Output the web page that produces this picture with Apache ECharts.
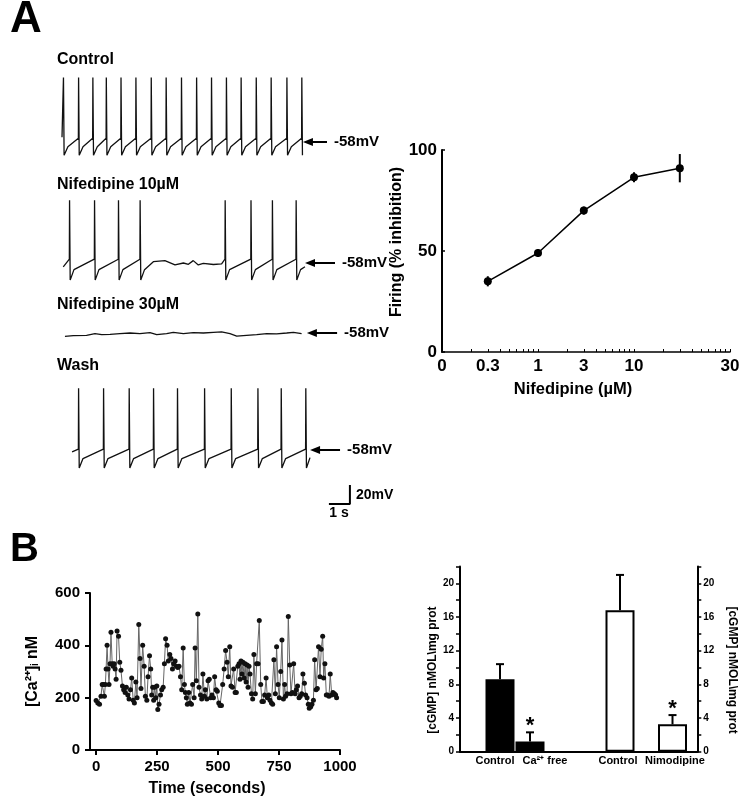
<!DOCTYPE html>
<html><head><meta charset="utf-8">
<script src="https://cdn.jsdelivr.net/npm/echarts@6/dist/echarts.min.js"></script>
<style>html,body{margin:0;padding:0;background:#fff}#c{width:748px;height:803px}</style>
</head><body><div id="c"></div>
<script>
// ---------- Panel A: membrane potential traces (time s, potential mV) ----------
const restingMV = -58;
const restLabel = '-58mV';
const traceNames = ['Control', 'Nifedipine 10\u00b5M', 'Nifedipine 30\u00b5M', 'Wash'];

const controlSpikes = [0.06, 0.78, 1.46, 2.10, 2.80, 3.51, 4.24, 4.95, 5.68, 6.40, 7.11, 7.82, 8.52, 9.24, 9.95, 10.70, 11.41];
const controlLevels = [-54, 10, -72, -63];           // threshold, peak, trough, early recovery
const controlEnds = [[0, -53], [11.45, -72]];

const nif10Spikes = [0.35, 1.54, 2.68, 3.71, 7.76, 8.99, 10.01, 11.14];
const nif10Levels = [-54, 8, -76, -65];
const nif10Ends = [[0.06, -62], [11.57, -62]];
const nif10Quiet = [[4.35, -56.6], [4.9, -55.5], [5.38, -60], [5.78, -58], [6.02, -59.4], [6.25, -55.5], [6.49, -60], [6.73, -58.4], [7.21, -59.6], [7.6, -58.9]];

const nif30Time = [0.14, 0.54, 1.17, 1.57, 1.89, 2.29, 2.76, 3.24, 3.71, 4.19, 4.51, 4.98, 5.30, 5.78, 6.25, 6.73, 7.21, 7.60, 8.00, 8.32, 8.79, 9.27, 9.75, 10.22, 10.70, 11.02, 11.41];
const nif30MV = [-61.5, -60.8, -60.4, -58.7, -59.7, -59.4, -58.7, -58, -58.7, -57.6, -59.7, -58.7, -57.3, -58.7, -57.6, -58, -57.3, -56.9, -58.7, -61.2, -60.4, -59.7, -58.7, -59, -58, -57.3, -58.7];

const washSpikes = [0.78, 1.97, 3.19, 4.35, 5.49, 6.78, 8.05, 9.32, 10.43, 11.60];
const washLevels = [-57, 7, -77, -67];
const washEnds = [[0.48, -60], [11.81, -66]];

const scaleBarSec = 1, scaleBarMV = 20;
const scaleBarCorner = [13.71, -114.8];

// ---------- Panel A: dose response ----------
const doseConc = [0.3, 1, 3, 10, 30];
const doseInhib = [35, 49, 70, 86.5, 91];
const doseErr = [2.5, 2, 2, 2.5, 7];
const doseTickValues = [0.1, 0.3, 1, 3, 10, 100];
const doseTickLabels = ['0', '0.3', '1', '3', '10', '30'];
const doseTickMarks = [0.2, 0.3, 0.4, 0.5, 0.6, 0.7, 0.8, 0.9, 1, 2, 3, 4, 5, 6, 7, 8, 9, 10, 20, 30, 40, 50, 60, 70, 80, 90, 100];

// ---------- Panel B: [Ca2+]i time course ----------
const caTime = [0,7,14,20,25,30,34,38,41,45,49,53,57,61,66,70,74,78,82,86,92,97,102,108,113,119,124,130,135,141,146,152,157,163,168,175,180,184,191,197,202,208,213,219,224,228,232,236,240,245,249,253,258,264,269,275,280,285,291,296,302,307,313,318,324,329,335,340,346,351,357,362,366,370,374,380,385,391,396,402,406,411,417,422,428,433,438,444,448,454,459,464,470,475,481,486,492,497,503,508,514,519,525,531,537,542,548,553,559,564,570,575,581,586,590,594,598,602,607,611,615,619,623,627,631,637,642,647,653,658,664,669,675,680,686,691,697,702,708,713,719,724,729,735,740,746,751,757,762,768,773,777,783,788,794,799,805,810,816,821,826,832,837,843,848,854,859,865,870,874,880,885,891,896,902,907,912,918,923,929,933,938,944,949,955,960,966,971,977,982,986];
const caValue = [189,180,175,205,250,250,205,250,310,400,310,250,330,450,330,320,330,310,270,455,435,335,305,245,230,220,240,210,195,230,275,190,180,260,200,480,350,235,400,320,205,190,280,360,310,210,240,190,240,200,245,155,175,210,230,240,330,425,400,340,365,350,310,330,340,320,315,320,280,230,390,250,220,200,175,220,180,175,250,200,390,265,520,240,210,195,290,205,230,195,265,270,200,210,200,280,230,225,180,170,170,250,310,380,335,280,395,245,240,310,220,220,320,330,270,340,290,335,275,330,260,325,240,320,290,215,195,365,215,330,330,495,250,185,185,210,275,200,210,190,180,175,345,215,395,250,200,300,420,195,250,205,215,510,325,215,220,330,215,230,245,200,205,215,290,255,210,200,175,160,165,175,190,345,230,235,395,280,385,435,275,330,210,210,205,290,210,220,215,210,200];
const caTicks = [0, 250, 500, 750, 1000];

// ---------- Panel B: cGMP bars ----------
const cgmpLabelsA = ['Control', 'Ca\u00b2\u207a free'];
const cgmpValuesA = [8.6, 1.2];
const cgmpErrA = [1.8, 1.1];
const cgmpSigA = [false, true];
const cgmpLabelsB = ['Control', 'Nimodipine'];
const cgmpValuesB = [16.8, 3.25];
const cgmpErrB = [4.2, 1.1];
const cgmpSigB = [false, true];
const cgmpAxisName = '[cGMP] nMOL\\mg prot';

// ---------- helpers ----------
const FONT = '"Liberation Sans", Arial, Helvetica, sans-serif';
function ts(size, extra) { return Object.assign({ fontFamily: FONT, fontWeight: 'bold', fontSize: size, color: '#000' }, extra || {}); }
function gtext(x, y, text, size, align) {
  return { type: 'text', x: x, y: y, silent: true, style: { text: text, fill: '#000', font: 'bold ' + size + 'px ' + FONT, align: align || 'left', verticalAlign: 'middle' } };
}
function spikeTrace(spikes, levels, ends, extra) {
  const pre = levels[0], peak = levels[1], trough = levels[2], rec = levels[3];
  let pts = [ends[0]];
  spikes.forEach(function (t) { pts.push([t, pre], [t + 0.01, peak], [t + 0.04, trough], [t + 0.22, rec]); });
  (extra || []).forEach(function (p) { pts.push(p); });
  pts = pts.filter(function (p) { return p[0] < ends[1][0]; });
  pts.sort(function (a, b) { return a[0] - b[0]; });
  pts.push(ends[1]);
  return pts;
}
function restArrow(t0, t1) {
  return {
    silent: true, animation: false, symbol: ['triangle', 'none'], symbolSize: [8, 10],
    lineStyle: { color: '#000', width: 2, type: 'solid' },
    label: Object.assign({ show: true, position: 'end', formatter: restLabel, distance: 7 }, ts(15)),
    data: [[{ coord: [t0, restingMV] }, { coord: [t1, restingMV] }]]
  };
}
const traceStyle = { color: '#111', width: 1.3 };
function traceSeries(idx, data, arrow) {
  return { type: 'line', xAxisIndex: idx, yAxisIndex: idx, data: data, showSymbol: false, symbol: 'none', clip: false,
    lineStyle: traceStyle, itemStyle: { color: '#111' }, markLine: arrow, silent: true, z: 3 };
}
function barErrRender(sig) {
  return function (params, api) {
    const x = api.value(0), v = api.value(1), e = api.value(2);
    const p0 = api.coord([x, v]), p1 = api.coord([x, v + e]);
    const ch = [
      { type: 'line', shape: { x1: p0[0], y1: p0[1], x2: p1[0], y2: p1[1] }, style: { stroke: '#000', lineWidth: 2 } },
      { type: 'line', shape: { x1: p1[0] - 4, y1: p1[1], x2: p1[0] + 4, y2: p1[1] }, style: { stroke: '#000', lineWidth: 2 } }
    ];
    if (sig[params.dataIndex]) {
      ch.push({ type: 'text', x: p1[0], y: p1[1] - 6, style: { text: '*', fill: '#000', font: 'bold 22px ' + FONT, align: 'center', verticalAlign: 'middle' } });
    }
    return { type: 'group', children: ch };
  };
}
function hiddenVal(grid, min, max) { return { type: 'value', gridIndex: grid, min: min, max: max, show: false, splitLine: { show: false } }; }

const controlData = spikeTrace(controlSpikes, controlLevels, controlEnds);
const nif10Data = spikeTrace(nif10Spikes, nif10Levels, nif10Ends, nif10Quiet);
const nif30Data = nif30Time.map(function (t, i) { return [t, nif30MV[i]]; });
const washData = spikeTrace(washSpikes, washLevels, washEnds);
const scaleBarData = [[scaleBarCorner[0] - scaleBarSec, scaleBarCorner[1]], scaleBarCorner, [scaleBarCorner[0], scaleBarCorner[1] + scaleBarMV]];

const barTop = 566.5, barH = 185.2;
const axisBlack = { color: '#000', width: 2 };

const option = {
  animation: false,
  backgroundColor: '#fff',
  textStyle: { fontFamily: FONT },
  grid: [
    { left: 62, top: 67.9, width: 336, height: 95, outerBoundsMode: 'none' },
    { left: 62, top: 188.9, width: 336, height: 95, outerBoundsMode: 'none' },
    { left: 62, top: 258.9, width: 336, height: 95, outerBoundsMode: 'none' },
    { left: 62, top: 375.9, width: 336, height: 142.5, outerBoundsMode: 'none' },
    { left: 442, top: 150, width: 288, height: 202, outerBoundsMode: 'none' },
    { left: 90, top: 593, width: 250, height: 157, outerBoundsMode: 'none' },
    { left: 460, top: barTop, width: 237.3, height: barH, outerBoundsMode: 'none' },
    { left: 485, top: barTop, width: 60, height: barH, outerBoundsMode: 'none' },
    { left: 593.75, top: barTop, width: 105, height: barH, outerBoundsMode: 'none' }
  ],
  xAxis: [
    hiddenVal(0, 0, 16), hiddenVal(1, 0, 16), hiddenVal(2, 0, 16), hiddenVal(3, 0, 16),
    { type: 'value', gridIndex: 4, min: -1, max: 2,
      axisLine: { onZero: false, lineStyle: { color: '#000', width: 1.5 } },
      axisTick: { show: true, inside: true, length: 3, customValues: doseTickMarks.map(Math.log10), lineStyle: { color: '#000', width: 1 } },
      axisLabel: Object.assign({ customValues: doseTickValues.map(Math.log10), margin: 6,
        formatter: function (v) { const i = doseTickValues.findIndex(function (c) { return Math.abs(Math.log10(c) - v) < 1e-6; }); return i >= 0 ? doseTickLabels[i] : ''; } }, ts(17)),
      splitLine: { show: false },
      name: 'Nifedipine (\u00b5M)', nameLocation: 'middle', nameGap: 29, nameTextStyle: ts(16.5, { padding: [0, 26, 0, 0] }) },
    { type: 'value', gridIndex: 5, min: -25, max: 1000,
      axisLine: { onZero: false, lineStyle: axisBlack },
      axisTick: { show: true, length: 5, customValues: caTicks, lineStyle: axisBlack },
      axisLabel: Object.assign({ customValues: caTicks, margin: 9, formatter: function (v) { return String(v); } }, ts(15)),
      splitLine: { show: false },
      name: 'Time (seconds)', nameLocation: 'middle', nameGap: 31, nameTextStyle: ts(16, { padding: [0, 16, 0, 0] }) },
    { type: 'value', gridIndex: 6, min: 0, max: 1, axisLine: { onZero: false, lineStyle: axisBlack }, axisTick: { show: false }, axisLabel: { show: false }, splitLine: { show: false } },
    { type: 'category', gridIndex: 7, data: cgmpLabelsA, axisLine: { show: false }, axisTick: { show: false },
      axisLabel: { interval: 0, margin: 4, formatter: function (v, i) { return '{l' + i + '|' + v + '}'; },
        rich: { l0: ts(11, { padding: [0, 10, 0, 0] }), l1: ts(11, { padding: [0, 0, 0, 30] }) } } },
    { type: 'category', gridIndex: 8, data: cgmpLabelsB, axisLine: { show: false }, axisTick: { show: false },
      axisLabel: { interval: 0, margin: 4, formatter: function (v, i) { return '{l' + i + '|' + v + '}'; },
        rich: { l0: ts(11, { padding: [0, 4, 0, 0] }), l1: ts(11, { padding: [0, 0, 0, 5] }) } } }
  ],
  yAxis: [
    hiddenVal(0, -80, 20), hiddenVal(1, -80, 20), hiddenVal(2, -80, 20), hiddenVal(3, -130, 20),
    { type: 'value', gridIndex: 4, min: 0, max: 100, interval: 50,
      axisLine: { show: true, onZero: false, lineStyle: axisBlack },
      axisTick: { show: true, inside: true, length: 3, lineStyle: { color: '#000', width: 1.5 } },
      axisLabel: Object.assign({ margin: 5 }, ts(17)),
      splitLine: { show: false },
      name: 'Firing (% inhibition)', nameLocation: 'middle', nameGap: 22, nameTextStyle: ts(16, { padding: [0, 0, 0, 18] }) },
    { type: 'value', gridIndex: 5, min: 0, max: 600, interval: 200,
      axisLine: { show: true, onZero: false, lineStyle: axisBlack },
      axisTick: { show: true, length: 5, lineStyle: axisBlack },
      axisLabel: Object.assign({ margin: 10 }, ts(15)),
      splitLine: { show: false },
      name: '[Ca\u00b2\u207a]\u1d62 nM', nameLocation: 'middle', nameGap: 49, nameTextStyle: ts(16) },
    { type: 'value', gridIndex: 6, position: 'left', min: 0, max: 22, interval: 2,
      axisLine: { show: true, onZero: false, lineStyle: axisBlack },
      axisTick: { show: true, length: 4, lineStyle: { color: '#000', width: 1.5 } },
      axisLabel: Object.assign({ margin: 6, formatter: function (v) { return v % 4 === 0 ? String(v) : ''; } }, ts(10)),
      splitLine: { show: false },
      name: cgmpAxisName, nameLocation: 'middle', nameGap: 21, nameTextStyle: ts(12, { padding: [0, 22, 0, 0] }) },
    { type: 'value', gridIndex: 6, position: 'right', min: 0, max: 22, interval: 2,
      axisLine: { show: true, onZero: false, lineStyle: axisBlack },
      axisTick: { show: true, length: 4, lineStyle: { color: '#000', width: 1.5 } },
      axisLabel: Object.assign({ margin: 6, formatter: function (v) { return v % 4 === 0 ? String(v) : ''; } }, ts(10)),
      splitLine: { show: false },
      name: cgmpAxisName, nameLocation: 'middle', nameGap: 29, nameRotate: -90, nameTextStyle: ts(12, { padding: [0, 0, 0, 22] }) },
    hiddenVal(7, 0, 22), hiddenVal(8, 0, 22)
  ],
  series: [
    traceSeries(0, controlData, restArrow(11.71, 12.62)),
    traceSeries(1, nif10Data, restArrow(11.81, 13.0)),
    traceSeries(2, nif30Data, restArrow(11.9, 13.1)),
    traceSeries(3, washData, restArrow(12.05, 13.24)),
    { type: 'line', xAxisIndex: 3, yAxisIndex: 3, data: scaleBarData, showSymbol: false, symbol: 'none', clip: false,
      lineStyle: { color: '#000', width: 2 }, silent: true },
    { type: 'line', xAxisIndex: 4, yAxisIndex: 4, data: doseConc.map(function (c, i) { return [Math.log10(c), doseInhib[i]]; }),
      symbol: 'circle', symbolSize: 8, itemStyle: { color: '#000' }, lineStyle: { color: '#000', width: 1.5 }, silent: true, z: 4 },
    { type: 'custom', xAxisIndex: 4, yAxisIndex: 4, silent: true, z: 5,
      data: doseConc.map(function (c, i) { return [Math.log10(c), doseInhib[i], doseErr[i]]; }),
      renderItem: function (params, api) {
        const p0 = api.coord([api.value(0), api.value(1) - api.value(2)]);
        const p1 = api.coord([api.value(0), api.value(1) + api.value(2)]);
        return { type: 'line', shape: { x1: p0[0], y1: p0[1], x2: p1[0], y2: p1[1] }, style: { stroke: '#000', lineWidth: 2 } };
      } },
    { type: 'line', xAxisIndex: 5, yAxisIndex: 5, data: caTime.map(function (t, i) { return [t, caValue[i]]; }),
      symbol: 'circle', symbolSize: 5, showSymbol: true, itemStyle: { color: '#111' }, lineStyle: { color: '#666', width: 1 }, silent: true },
    { type: 'bar', xAxisIndex: 7, yAxisIndex: 8, data: cgmpValuesA, barWidth: 29, silent: true,
      itemStyle: { color: '#000', borderColor: '#000', borderWidth: 2 } },
    { type: 'bar', xAxisIndex: 8, yAxisIndex: 9, data: cgmpValuesB, barWidth: 29, silent: true,
      itemStyle: { color: '#fff', borderColor: '#000', borderWidth: 2 } },
    { type: 'custom', xAxisIndex: 7, yAxisIndex: 8, silent: true, z: 5,
      data: cgmpValuesA.map(function (v, i) { return [i, v, cgmpErrA[i]]; }), renderItem: barErrRender(cgmpSigA) },
    { type: 'custom', xAxisIndex: 8, yAxisIndex: 9, silent: true, z: 5,
      data: cgmpValuesB.map(function (v, i) { return [i, v, cgmpErrB[i]]; }), renderItem: barErrRender(cgmpSigB) }
  ],
  graphic: { elements: [
    gtext(10, 20, 'A', 44),
    gtext(57, 60, traceNames[0], 16),
    gtext(57, 185, traceNames[1], 16),
    gtext(57, 305, traceNames[2], 16),
    gtext(57, 366, traceNames[3], 16),
    gtext(356, 495, scaleBarMV + 'mV', 14),
    gtext(339, 513, scaleBarSec + ' s', 14, 'center'),
    gtext(10, 550, 'B', 40)
  ] }
};

const chart = echarts.init(document.getElementById('c'), null, { renderer: 'canvas' });
chart.setOption(option);
</script>
</body></html>
